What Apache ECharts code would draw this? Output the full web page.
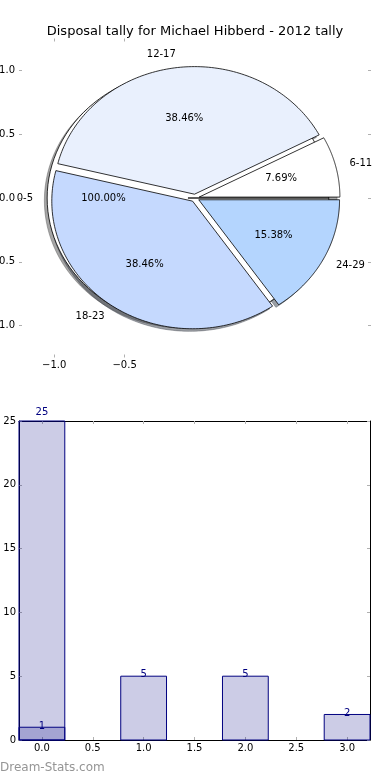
<!DOCTYPE html>
<html><head><meta charset="utf-8">
<script src="https://cdn.jsdelivr.net/npm/echarts@6/dist/echarts.min.js"></script>
<style>html,body{margin:0;padding:0;background:#fff}#c{width:390px;height:780px}</style>
</head><body><div id="c"></div>
<script>
// ---- data ----
const titleText = 'Disposal tally for Michael Hibberd - 2012 tally';
const basePieLabels = ['0-5'];
const basePieValues = [1];
const pieLabels = ['6-11', '12-17', '18-23', '24-29'];
const pieValues = [1, 5, 5, 2];
const pieTicksX = [-1.0, -0.5];
const pieTicksY = [-1.0, -0.5, 0.0, 0.5, 1.0];
const barCategories = [0, 1, 2, 3];
const barValues = [25, 5, 5, 2];
const overlayCategories = [0];
const overlayValues = [1];
const barTicksX = [0, 0.5, 1, 1.5, 2, 2.5, 3];
const watermark = 'Dream-Stats.com';

// ---- styles ----
const FONT = '"DejaVu Sans", Verdana, sans-serif';
const pieColors = ['#ffffff', '#e9f0fd', '#c5d9fe', '#b4d5fe'];
const basePieColor = '#ffffff';
const sliceExplode = 0.03;
const baseExplode = 0.05;
const shadowOff = [-0.02, -0.02];
const barHalf = 0.225;
const tickGray = '#b0b0b0';

function geom(values, explode) {
  const total = values.reduce((a, b) => a + b, 0);
  let a = 0;
  return values.map(v => {
    const t1 = a, t2 = a + 360 * v / total;
    a = t2;
    const mid = (t1 + t2) / 2 * Math.PI / 180;
    return { t1, t2, mid, ox: explode * Math.cos(mid), oy: explode * Math.sin(mid), pct: (100 * v / total).toFixed(2) + '%' };
  });
}
const baseGeom = geom(basePieValues, baseExplode);
const sliceGeom = geom(pieValues, sliceExplode);

function wedgePoints(api, w, dx, dy) {
  const pts = [api.coord([w.ox + dx, w.oy + dy])];
  const N = 120;
  for (let k = 0; k <= N; k++) {
    const t = (w.t1 + (w.t2 - w.t1) * k / N) * Math.PI / 180;
    pts.push(api.coord([w.ox + dx + Math.cos(t), w.oy + dy + Math.sin(t)]));
  }
  return pts;
}
function shade(hex) {
  const r = parseInt(hex.slice(1, 3), 16), g = parseInt(hex.slice(3, 5), 16), b = parseInt(hex.slice(5, 7), 16);
  return `rgba(${Math.round(r * 0.3)},${Math.round(g * 0.3)},${Math.round(b * 0.3)},0.5)`;
}
const allGeom = baseGeom.map((g, i) => ({ g, color: basePieColor, label: basePieLabels[i] }))
  .concat(sliceGeom.map((g, i) => ({ g, color: pieColors[i], label: pieLabels[i] })));

const tickFmt = v => (Math.round(v * 10) / 10).toFixed(1).replace('-', '\u2212');

const chart = echarts.init(document.getElementById('c'), null, { renderer: 'canvas' });

const pieAxisCommon = {
  type: 'value', min: -1.25, max: 1.25,
  axisLine: { show: false, onZero: false },
  splitLine: { show: false }
};
const barAxisLine = { show: true, onZero: false, lineStyle: { color: '#000', width: 1 } };

function barRender(params, api) {
  const x = api.value(0), v = api.value(1);
  const tl = api.coord([x - barHalf, v]);
  const br = api.coord([x + barHalf, 0]);
  const off = v >= 25 ? 9 : 1.3;
  return { type: 'group', children: [
    { type: 'rect', shape: { x: tl[0], y: tl[1], width: br[0] - tl[0], height: br[1] - tl[1] },
      style: { fill: 'rgba(0,0,128,0.2)', stroke: '#000080', lineWidth: 1 } },
    { type: 'text', x: (tl[0] + br[0]) / 2, y: tl[1] - off, z2: 10,
      style: { text: String(v), fill: '#000080', fontSize: 10, fontFamily: FONT, align: 'center', verticalAlign: 'middle' } }
  ] };
}

chart.setOption({
  animation: false,
  title: {
    text: titleText, left: 'center', top: 20,
    textStyle: { fontSize: 13, fontWeight: 'normal', fontFamily: FONT, color: '#000' }
  },
  graphic: [{
    type: 'text', left: 0, top: 762,
    style: { text: watermark, fill: '#959595', font: '12px ' + FONT }
  }],
  grid: [
    { left: 19, top: 38.5, width: 352, height: 319, containLabel: false, outerBoundsMode: 'none' },
    { left: 19, top: 421, width: 351, height: 319, containLabel: false, outerBoundsMode: 'none' }
  ],
  xAxis: [
    Object.assign({}, pieAxisCommon, {
      gridIndex: 0, position: 'bottom',
      axisTick: { show: true, inside: true, length: 3, customValues: pieTicksX, lineStyle: { color: tickGray } },
      axisLabel: { show: true, customValues: pieTicksX, formatter: tickFmt, fontSize: 10, fontFamily: FONT, color: '#000', margin: 3 }
    }),
    Object.assign({}, pieAxisCommon, {
      gridIndex: 0, position: 'top',
      axisTick: { show: true, inside: true, length: 3, customValues: pieTicksX, lineStyle: { color: tickGray } },
      axisLabel: { show: false }
    }),
    {
      gridIndex: 1, type: 'value', position: 'bottom', min: -barHalf, max: 3 + barHalf,
      axisLine: barAxisLine, splitLine: { show: false },
      axisTick: { show: true, inside: true, length: 3, customValues: barTicksX, lineStyle: { color: tickGray } },
      axisLabel: { show: true, customValues: barTicksX, formatter: tickFmt, fontSize: 10, fontFamily: FONT, color: '#000', margin: 3 }
    },
    {
      gridIndex: 1, type: 'value', position: 'top', min: -barHalf, max: 3 + barHalf,
      axisLine: barAxisLine, splitLine: { show: false },
      axisTick: { show: true, inside: true, length: 3, customValues: barTicksX, lineStyle: { color: tickGray } },
      axisLabel: { show: false }
    }
  ],
  yAxis: [
    Object.assign({}, pieAxisCommon, {
      gridIndex: 0, position: 'left',
      axisTick: { show: true, inside: true, length: 3, customValues: pieTicksY, lineStyle: { color: tickGray } },
      axisLabel: { show: true, customValues: pieTicksY, formatter: tickFmt, fontSize: 10, fontFamily: FONT, color: '#000', margin: 4 }
    }),
    Object.assign({}, pieAxisCommon, {
      gridIndex: 0, position: 'right',
      axisTick: { show: true, inside: true, length: 3, customValues: pieTicksY, lineStyle: { color: tickGray } },
      axisLabel: { show: false }
    }),
    {
      gridIndex: 1, type: 'value', position: 'left', min: 0, max: 25, interval: 5,
      axisLine: barAxisLine, splitLine: { show: false },
      axisTick: { show: true, inside: true, length: 3, lineStyle: { color: tickGray } },
      axisLabel: { show: true, fontSize: 10, fontFamily: FONT, color: '#000', margin: 3 }
    },
    {
      gridIndex: 1, type: 'value', position: 'right', min: 0, max: 25, interval: 5,
      axisLine: barAxisLine, splitLine: { show: false },
      axisTick: { show: true, inside: true, length: 3, lineStyle: { color: tickGray } },
      axisLabel: { show: false }
    }
  ],
  series: [
    { // shadows (below all wedges)
      type: 'custom', xAxisIndex: 0, yAxisIndex: 0, clip: false, z: 1,
      data: allGeom.map((d, i) => [i, 0]),
      renderItem: (params, api) => {
        const d = allGeom[api.value(0)];
        const c = shade(d.color);
        return { type: 'polygon', shape: { points: wedgePoints(api, d.g, shadowOff[0], shadowOff[1]) },
          style: { fill: c, stroke: c, lineWidth: 0.8 } };
      }
    },
    { // wedges: base pie first, then exploded slices
      type: 'custom', xAxisIndex: 0, yAxisIndex: 0, clip: false, z: 2,
      data: allGeom.map((d, i) => [i, 0]),
      renderItem: (params, api) => {
        const d = allGeom[api.value(0)];
        return { type: 'polygon', shape: { points: wedgePoints(api, d.g, 0, 0) },
          style: { fill: d.color, stroke: '#000', lineWidth: 0.8 } };
      }
    },
    { // labels
      type: 'custom', xAxisIndex: 0, yAxisIndex: 0, clip: false, z: 3,
      data: allGeom.map((d, i) => [i, 0]),
      renderItem: (params, api) => {
        const d = allGeom[api.value(0)], w = d.g;
        const cm = Math.cos(w.mid), sm = Math.sin(w.mid);
        const lp = api.coord([w.ox + 1.1 * cm, w.oy + 1.1 * sm]);
        const pp = api.coord([w.ox + 0.6 * cm, w.oy + 0.6 * sm]);
        return { type: 'group', children: [
          { type: 'text', x: lp[0], y: lp[1], style: { text: d.label, fill: '#000', fontSize: 10, fontFamily: FONT,
            align: cm > 0 ? 'left' : 'right', verticalAlign: 'middle' } },
          { type: 'text', x: pp[0], y: pp[1], style: { text: w.pct, fill: '#000', fontSize: 10, fontFamily: FONT,
            align: 'center', verticalAlign: 'middle' } }
        ] };
      }
    },
    { // bars
      type: 'custom', xAxisIndex: 2, yAxisIndex: 2, clip: false, z: 2,
      data: barCategories.map((c, i) => [c, barValues[i]]),
      renderItem: barRender
    },
    { // overlay bars
      type: 'custom', xAxisIndex: 2, yAxisIndex: 2, clip: false, z: 3,
      data: overlayCategories.map((c, i) => [c, overlayValues[i]]),
      renderItem: barRender
    }
  ]
});
</script>
</body></html>
